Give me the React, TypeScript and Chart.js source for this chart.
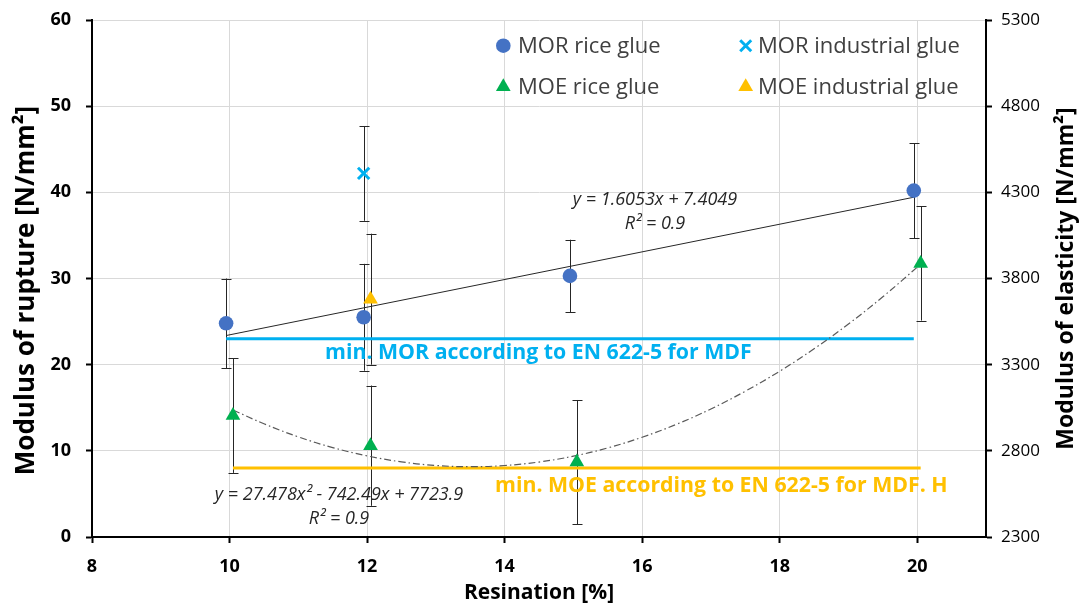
import React, { useEffect, useRef } from "react";
import { Chart, registerables } from "chart.js";

Chart.register(...registerables);

const FONT = "'Open Sans', 'Noto Sans', sans-serif";

// Categories / tick labels
const xTickValues = [8, 10, 12, 14, 16, 18, 20];
const leftTickValues = [0, 10, 20, 30, 40, 50, 60];
const rightTickValues = [2300, 2800, 3300, 3800, 4300, 4800, 5300];

// MOR rice glue (left axis)
const morRiceX = [9.95, 11.95, 14.95, 19.95];
const morRiceY = [24.8, 25.5, 30.3, 40.2];
const morRiceErr = [5.2, 6.2, 4.2, 5.5];

// MOR industrial glue (left axis)
const morIndX = [11.95];
const morIndY = [42.2];
const morIndErr = [5.5];

// MOE rice glue (right axis)
const moeRiceX = [10.05, 12.05, 15.05, 20.05];
const moeRiceY = [3005, 2830, 2735, 3887];
const moeRiceErr = [333, 349, 360, 331];

// MOE industrial glue (right axis)
const moeIndX = [12.05];
const moeIndY = [3680];
const moeIndErr = [380];

// Linear trend line of MOR (y = 1.6053x + 7.4049)
const morTrendX = [9.95, 19.95];
const morTrendY = [23.38, 39.43];

// Polynomial trend line of MOE (y = 27.478x² - 742.49x + 7723.9)
const moeTrendX = [10.05, 10.5, 11, 11.5, 12, 12.5, 13, 13.5, 14, 14.5, 15, 15.5, 16, 16.5, 17, 17.5, 18, 18.5, 19, 19.5, 20.05];
const moeTrendY = [3037, 2957, 2881, 2819, 2771, 2736, 2715, 2708, 2715, 2735, 2769, 2817, 2879, 2954, 3043, 3146, 3262, 3392, 3536, 3694, 3883];

// Minimum requirement lines (EN 622-5)
const minMorX = [9.95, 19.95];
const minMorY = [23, 23];
const minMoeX = [10.05, 20.05];
const minMoeY = [2700, 2700];

const legendLabels = ["MOR rice glue", "MOR industrial glue", "MOE rice glue", "MOE industrial glue"];
const morEquation = "y = 1.6053x + 7.4049";
const moeEquation = "y = 27.478x² - 742.49x + 7723.9";
const r2Text = "R² = 0.9";
const minMorLabel = "min. MOR according to EN 622-5 for MDF";
const minMoeLabel = "min. MOE according to EN 622-5 for MDF. H";
const xTitle = "Resination [%]";
const leftTitle = "Modulus of rupture [N/mm²]";
const rightTitle = "Modulus of elasticity [N/mm²]";

const C_BLUE = "#4472C4";
const C_CYAN = "#00B0F0";
const C_GREEN = "#00B050";
const C_ORANGE = "#FFC000";
const C_TEXT = "#404040";

const pts = (xs: number[], ys: number[]) => xs.map((x, i) => ({ x, y: ys[i] }));

const errorBarPlugin = {
  id: "errorBars",
  beforeDatasetsDraw(chart: any) {
    const { ctx, scales } = chart;
    const sets = [
      { xs: morRiceX, ys: morRiceY, es: morRiceErr, axis: "y" },
      { xs: morIndX, ys: morIndY, es: morIndErr, axis: "y" },
      { xs: moeRiceX, ys: moeRiceY, es: moeRiceErr, axis: "y2" },
      { xs: moeIndX, ys: moeIndY, es: moeIndErr, axis: "y2" },
    ];
    ctx.save();
    ctx.strokeStyle = "#262626";
    ctx.lineWidth = 1;
    sets.forEach((s) => {
      const ys = scales[s.axis];
      s.xs.forEach((xv, i) => {
        const px = Math.round(scales.x.getPixelForValue(xv)) + 0.5;
        const top = ys.getPixelForValue(s.ys[i] + s.es[i]);
        const bot = ys.getPixelForValue(s.ys[i] - s.es[i]);
        ctx.beginPath();
        ctx.moveTo(px, top);
        ctx.lineTo(px, bot);
        ctx.moveTo(px - 5, Math.round(top) + 0.5);
        ctx.lineTo(px + 5, Math.round(top) + 0.5);
        ctx.moveTo(px - 5, Math.round(bot) + 0.5);
        ctx.lineTo(px + 5, Math.round(bot) + 0.5);
        ctx.stroke();
      });
    });
    ctx.restore();
  },
};

function drawMarker(ctx: CanvasRenderingContext2D, kind: string, x: number, y: number, color: string) {
  ctx.save();
  ctx.fillStyle = color;
  ctx.strokeStyle = color;
  if (kind === "circle") {
    ctx.beginPath();
    ctx.arc(x, y, 7.3, 0, Math.PI * 2);
    ctx.fill();
  } else if (kind === "cross") {
    ctx.lineWidth = 3;
    const d = 5.5;
    ctx.beginPath();
    ctx.moveTo(x - d, y - d);
    ctx.lineTo(x + d, y + d);
    ctx.moveTo(x - d, y + d);
    ctx.lineTo(x + d, y - d);
    ctx.stroke();
  } else {
    const r = 8.5;
    ctx.beginPath();
    ctx.moveTo(x, y - r);
    ctx.lineTo(x + r * 0.866, y + r / 2);
    ctx.lineTo(x - r * 0.866, y + r / 2);
    ctx.closePath();
    ctx.fill();
  }
  ctx.restore();
}

const annotationPlugin = {
  id: "annotations",
  afterDraw(chart: any) {
    const { ctx, chartArea } = chart;
    ctx.save();
    // Legend
    ctx.font = `22px ${FONT}`;
    ctx.fillStyle = C_TEXT;
    ctx.textBaseline = "middle";
    ctx.textAlign = "left";
    const legend = [
      { kind: "circle", color: C_BLUE, mx: 503.3, tx: 518, y: 45.7, label: legendLabels[0] },
      { kind: "cross", color: C_CYAN, mx: 745.7, tx: 758, y: 45.7, label: legendLabels[1] },
      { kind: "triangle", color: C_GREEN, mx: 503.3, tx: 518, y: 86.7, label: legendLabels[2] },
      { kind: "triangle", color: C_ORANGE, mx: 745.7, tx: 758, y: 86.7, label: legendLabels[3] },
    ];
    legend.forEach((l) => {
      drawMarker(ctx, l.kind, l.mx, l.y, l.color);
      ctx.fillStyle = C_TEXT;
      ctx.fillText(l.label, l.tx, l.y + 1);
    });

    // Trend line equations
    ctx.font = `italic 18px ${FONT}`;
    ctx.fillStyle = "#262626";
    ctx.textAlign = "center";
    ctx.fillText(morEquation, 655, 200);
    ctx.fillText(r2Text, 655, 224);
    ctx.fillText(moeEquation, 339, 495);
    ctx.fillText(r2Text, 339, 519);

    // Minimum requirement labels
    ctx.font = `bold 21.3px ${FONT}`;
    ctx.fillStyle = C_CYAN;
    ctx.textAlign = "left";
    ctx.fillText(minMorLabel, 325, 353);
    ctx.fillStyle = C_ORANGE;
    ctx.fillText(minMoeLabel, 495, 486);

    // Axis titles
    ctx.fillStyle = "#000000";
    ctx.font = `bold 21px ${FONT}`;
    ctx.textAlign = "center";
    ctx.fillText(xTitle, (chartArea.left + chartArea.right) / 2, 593);

    ctx.font = `bold 26px ${FONT}`;
    ctx.translate(27, (chartArea.top + chartArea.bottom) / 2 + 12);
    ctx.rotate(-Math.PI / 2);
    ctx.fillText(leftTitle, 0, 0);
    ctx.restore();

    ctx.save();
    ctx.font = `bold 23px ${FONT}`;
    ctx.fillStyle = "#000000";
    ctx.textAlign = "center";
    ctx.textBaseline = "middle";
    ctx.translate(1066, (chartArea.top + chartArea.bottom) / 2);
    ctx.rotate(-Math.PI / 2);
    ctx.fillText(rightTitle, 0, 0);
    ctx.restore();
  },
};

export default function App() {
  const canvasRef = useRef<HTMLCanvasElement | null>(null);

  useEffect(() => {
    if (!canvasRef.current) return;
    const chart = new Chart(canvasRef.current, {
      type: "scatter",
      data: {
        datasets: [
          {
            label: legendLabels[0],
            data: pts(morRiceX, morRiceY),
            yAxisID: "y",
            pointStyle: "circle",
            pointRadius: 7.3,
            pointBackgroundColor: C_BLUE,
            pointBorderColor: C_BLUE,
            pointBorderWidth: 0,
            showLine: false,
          },
          {
            label: legendLabels[1],
            data: pts(morIndX, morIndY),
            yAxisID: "y",
            pointStyle: "crossRot",
            pointRadius: 8,
            pointBorderColor: C_CYAN,
            pointBorderWidth: 3,
            showLine: false,
          },
          {
            label: legendLabels[2],
            data: pts(moeRiceX, moeRiceY),
            yAxisID: "y2",
            pointStyle: "triangle",
            pointRadius: 8.5,
            pointBackgroundColor: C_GREEN,
            pointBorderColor: C_GREEN,
            pointBorderWidth: 0,
            showLine: false,
          },
          {
            label: legendLabels[3],
            data: pts(moeIndX, moeIndY),
            yAxisID: "y2",
            pointStyle: "triangle",
            pointRadius: 8.5,
            pointBackgroundColor: C_ORANGE,
            pointBorderColor: C_ORANGE,
            pointBorderWidth: 0,
            showLine: false,
          },
          {
            label: "MOR trend",
            data: pts(morTrendX, morTrendY),
            yAxisID: "y",
            showLine: true,
            borderColor: "#262626",
            borderWidth: 1,
            pointRadius: 0,
          },
          {
            label: "MOE trend",
            data: pts(moeTrendX, moeTrendY),
            yAxisID: "y2",
            showLine: true,
            borderColor: "#595959",
            borderWidth: 1.2,
            borderDash: [7, 3, 1.5, 3],
            tension: 0.4,
            pointRadius: 0,
          },
          {
            label: "min MOR",
            data: pts(minMorX, minMorY),
            yAxisID: "y",
            showLine: true,
            borderColor: C_CYAN,
            borderWidth: 3,
            pointRadius: 0,
          },
          {
            label: "min MOE",
            data: pts(minMoeX, minMoeY),
            yAxisID: "y2",
            showLine: true,
            borderColor: C_ORANGE,
            borderWidth: 3,
            pointRadius: 0,
          },
        ],
      },
      options: {
        responsive: true,
        maintainAspectRatio: false,
        animation: false,
        layout: { padding: { top: 20, left: 0, right: 0, bottom: 0 } },
        plugins: {
          legend: { display: false },
          tooltip: { enabled: false },
          title: { display: false },
        },
        scales: {
          x: {
            type: "linear",
            min: 8,
            max: 21,
            afterBuildTicks: (scale: any) => {
              scale.ticks = xTickValues.map((v) => ({ value: v }));
            },
            afterFit: (scale: any) => {
              scale.height = 68;
              scale.paddingLeft = 0;
              scale.paddingRight = 0;
            },
            ticks: {
              color: "#000000",
              font: { family: FONT, size: 18, weight: "bold" },
              padding: 13,
              maxRotation: 0,
            },
            grid: {
              color: "#d9d9d9",
              lineWidth: 1,
              tickColor: "#000000",
              tickLength: 6,
              tickWidth: 2,
            },
            border: { color: "#000000", width: 2 },
          },
          y: {
            type: "linear",
            position: "left",
            min: 0,
            max: 60,
            afterBuildTicks: (scale: any) => {
              scale.ticks = leftTickValues.map((v) => ({ value: v }));
            },
            afterFit: (scale: any) => {
              scale.width = 92;
              scale.paddingTop = 0;
              scale.paddingBottom = 0;
            },
            ticks: {
              color: "#000000",
              font: { family: FONT, size: 18, weight: "bold" },
              padding: 15,
            },
            grid: {
              color: "#d9d9d9",
              lineWidth: 1,
              tickColor: "#000000",
              tickLength: 6,
              tickWidth: 2,
            },
            border: { color: "#000000", width: 2 },
          },
          y2: {
            type: "linear",
            position: "right",
            min: 2300,
            max: 5300,
            afterBuildTicks: (scale: any) => {
              scale.ticks = rightTickValues.map((v) => ({ value: v }));
            },
            afterFit: (scale: any) => {
              scale.width = 98;
              scale.paddingTop = 0;
              scale.paddingBottom = 0;
            },
            ticks: {
              color: "#000000",
              font: { family: FONT, size: 17 },
              padding: 9,
              callback: (v: any) => String(v),
            },
            grid: {
              drawOnChartArea: false,
              tickColor: "#000000",
              tickLength: 6,
              tickWidth: 2,
            },
            border: { color: "#000000", width: 2 },
          },
        },
      },
      plugins: [errorBarPlugin, annotationPlugin],
    });
    return () => chart.destroy();
  }, []);

  return (
    <div style={{ position: "absolute", left: 0, top: 0, width: 1084, height: 605, background: "#ffffff" }}>
      <canvas ref={canvasRef} />
    </div>
  );
}
